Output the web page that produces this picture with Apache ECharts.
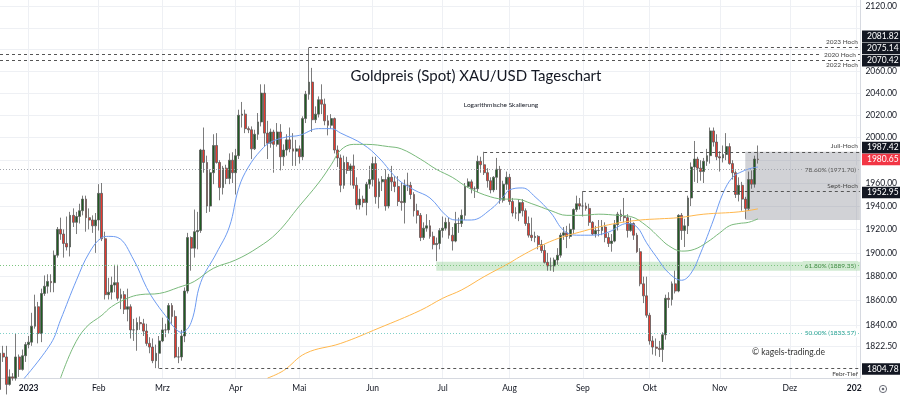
<!DOCTYPE html>
<html><head><meta charset="utf-8">
<script src="https://cdn.jsdelivr.net/npm/echarts@6/dist/echarts.min.js"></script>
<style>html,body{margin:0;padding:0;background:#fff}#c{width:900px;height:395px}</style>
</head><body><div id="c"></div>
<script>
// ---- categories: trading days (Mon-Fri) from 2022-12-20 to 2024-01-02 ----
const dates = [];
for (let d = new Date(Date.UTC(2022, 11, 20)); d <= new Date(Date.UTC(2024, 0, 2)); d.setUTCDate(d.getUTCDate() + 1)) {
  const w = d.getUTCDay();
  if (w === 0 || w === 6) continue;
  dates.push(d.toISOString().slice(0, 10));
}
const monthNames = ['Jan','Feb','Mrz','Apr','Mai','Jun','Jul','Aug','Sep','Okt','Nov','Dez'];

// ---- daily candles [open, close, low, high] ----
const dec22 = [[1788,1817,1786,1823],[1817,1814,1810,1823],[1814,1792,1784,1823],[1792,1798,1791,1804],[1798,1797,1795,1801],
  [1797,1814,1795,1833],[1814,1804,1798,1816],[1804,1815,1803,1820],[1815,1824,1810,1826]];
const jan23 = [[1824,1826,1821,1831],[1826,1839,1823,1850],[1839,1855,1837,1865],[1855,1833,1825,1859],[1833,1866,1826,1870],
  [1866,1872,1864,1881],[1872,1876,1866,1882],[1876,1875,1867,1882],[1875,1898,1867,1902],[1898,1920,1896,1922],
  [1920,1916,1911,1930],[1916,1908,1896,1920],[1908,1905,1902,1931],[1905,1932,1897,1935],[1932,1926,1922,1938],
  [1926,1931,1916,1935],[1931,1936,1925,1942],[1936,1946,1932,1949],[1946,1930,1918,1949],[1930,1928,1920,1938],
  [1928,1923,1917,1932],[1923,1928,1900,1934]];
const feb23 = [[1928,1951,1919,1959],[1951,1912,1910,1960],[1912,1865,1861,1918],
  [1865,1867,1861,1879],[1867,1873,1861,1880],[1873,1875,1867,1890],[1875,1862,1860,1890],[1862,1865,1853,1870],
  [1865,1853,1849,1868],[1853,1855,1843,1870],[1855,1836,1829,1857],[1836,1836,1827,1845],[1836,1842,1819,1846],
  [1842,1841,1836,1847],[1841,1835,1831,1845],[1835,1825,1823,1841],[1825,1822,1817,1830],[1822,1811,1809,1829],
  [1811,1817,1805,1824],[1817,1827,1804.78,1831]];
const mar23 = [[1827,1836,1826,1846],[1836,1836,1830,1841],[1836,1856,1833,1858],
  [1856,1847,1841,1858],[1847,1814,1813,1852],[1814,1814,1809,1822],[1814,1831,1811,1836],[1831,1868,1826,1871],
  [1868,1913,1866,1917],[1913,1904,1885,1914],[1904,1918,1896,1937],[1918,1919,1903,1935],[1919,1989,1917,1990],
  [1989,1978,1969,2009],[1978,1940,1934,1984],[1940,1969,1935,1972],[1969,1993,1959,2003],[1993,1978,1977,2004],
  [1978,1956,1945,1980],[1956,1973,1950,1975],[1973,1964,1959,1976],[1964,1980,1959,1986],[1980,1969,1960,1987]];
const apr23 = [[1969,1984,1950,1990],[1984,2020,1981,2025],[2020,2021,2009,2032],[2021,2008,2004,2025],[2008,2007,2004,2010],
  [2007,1990,1981,2010],[1990,2003,1989,2007],[2003,2014,1998,2022],[2014,2040,2010,2048],[2040,2004,1992,2048],
  [2004,1995,1981,2015],[1995,2005,1991,2008],[2005,1994,1969,2007],[1994,2005,1992,2013],[2005,1983,1971,2012],
  [1983,1989,1975,1994],[1989,1998,1984,2003],[1998,1990,1987,2009],[1990,1988,1975,2004],[1988,1990,1975,1998]];
const may23 = [[1990,1983,1977,1993],[1983,2017,1980,2019],[2017,2039,2013,2042],[2039,2050,2034,2081.82],[2050,2016,2005,2063],
  [2016,2021,2013,2028],[2021,2034,2018,2037],[2034,2030,2021,2048],[2030,2015,2011,2035],[2015,2011,2002,2020],
  [2011,2017,2008,2021],[2017,1989,1986,2018],[1989,1982,1974,1993],[1982,1958,1952,1985],[1958,1978,1955,1984],
  [1978,1971,1968,1983],[1971,1975,1958,1977],[1975,1958,1955,1985],[1958,1941,1937,1965],[1941,1946,1937,1955],
  [1946,1943,1939,1949],[1943,1959,1932,1961],[1959,1963,1955,1975]];
const jun23 = [[1963,1977,1957,1983],[1977,1948,1942,1983],
  [1948,1961,1938,1964],[1961,1963,1953,1966],[1963,1940,1936,1972],[1940,1965,1938,1968],[1965,1961,1953,1975],
  [1961,1957,1952,1966],[1957,1944,1940,1966],[1944,1943,1936,1960],[1943,1958,1925,1963],[1958,1958,1953,1969],
  [1958,1950,1946,1961],[1950,1936,1931,1952],[1936,1932,1925,1942],[1932,1913,1910,1934],[1913,1921,1911,1926],
  [1921,1923,1918,1933],[1923,1914,1912,1928],[1914,1907,1903,1918],[1907,1908,1893,1913],[1908,1919,1903,1921]];
const jul23 = [[1919,1921,1913,1931],[1921,1926,1919,1930],[1926,1915,1912,1930],[1915,1910,1902,1922],[1910,1925,1909,1935],
  [1925,1925,1917,1930],[1925,1932,1922,1937],[1932,1957,1928,1960],[1957,1961,1956,1964],[1961,1955,1951,1963],
  [1955,1955,1947,1957],[1955,1979,1952,1984],[1979,1976,1969,1983],[1976,1969,1967,1987.42],[1969,1962,1956,1973],
  [1962,1954,1951,1965],[1954,1965,1952,1966],[1965,1972,1954,1982],[1972,1945,1942,1975],[1945,1959,1943,1962],
  [1959,1965,1954,1970]];
const aug23 = [[1965,1944,1941,1968],[1944,1934,1931,1947],[1934,1934,1929,1939],[1934,1943,1927,1946],
  [1943,1936,1931,1946],[1936,1925,1923,1938],[1925,1915,1913,1931],[1915,1913,1910,1930],[1913,1914,1909,1918],
  [1914,1907,1903,1915],[1907,1902,1900,1911],[1902,1892,1891,1907],[1892,1889,1885,1900],[1889,1889,1885,1896],
  [1889,1894,1884,1896],[1894,1898,1890,1904],[1898,1915,1896,1917],[1915,1917,1911,1922],[1917,1914,1904,1923],
  [1914,1920,1912,1925],[1920,1937,1916,1938],[1937,1942,1935,1949],[1942,1940,1937,1947]];
const sep23 = [[1940,1940,1931,1952.95],
  [1940,1938,1936,1943],[1938,1926,1923,1942],[1926,1916,1915,1927],[1916,1919,1913,1923],[1919,1919,1914,1928],
  [1919,1922,1915,1928],[1922,1913,1909,1926],[1913,1908,1905,1917],[1908,1910,1901,1916],[1910,1924,1909,1928],
  [1924,1933,1919,1935],[1933,1931,1927,1937],[1931,1930,1926,1947],[1930,1919,1913,1933],[1919,1925,1918,1930],
  [1925,1915,1911,1926],[1915,1901,1900,1917],[1901,1874,1872,1904],[1874,1864,1858,1880],[1864,1848,1846,1880]];
const oct23 = [[1848,1827,1824,1850],[1827,1822,1816,1831],[1822,1821,1815,1829],[1821,1820,1814,1827],[1820,1832,1810,1834],
  [1832,1862,1828,1865],[1862,1861,1854,1867],[1861,1874,1856,1876],[1874,1868,1866,1885],[1868,1932,1867,1933],
  [1932,1919,1911,1934],[1919,1923,1905,1929],[1923,1947,1916,1949],[1947,1974,1940,1978],[1974,1981,1961,1997],
  [1981,1973,1960,1983],[1973,1970,1962,1980],[1970,1979,1960,1982],[1979,1984,1975,1990],[1984,2006,1977,2009],
  [2006,1996,1992,2009],[1996,1983,1980,2003]];
const nov23 = [[1983,1982,1970,1988],[1982,1985,1978,1993],[1985,1992,1980,2004],
  [1992,1977,1976,1995],[1977,1969,1963,1980],[1969,1950,1947,1971],[1950,1958,1944,1965],[1958,1946,1936,1961],
  [1946,1938,1929,1948],[1938,1963,1936,1970],[1963,1959,1955,1971],[1959,1981,1956,1984],[1981,1980.65,1977,1993]];
const candles = [].concat(dec22, jan23, feb23, mar23, apr23, may23, jun23, jul23, aug23, sep23, oct23, nov23);

// ---- moving averages [date, value] ----
const maBlue = [['2022-12-29',1795],['2023-01-11',1825],['2023-01-16',1844],['2023-01-23',1877],['2023-01-27',1900],
  ['2023-02-02',1913],['2023-02-06',1914],['2023-02-09',1913],['2023-02-16',1894],['2023-02-22',1871],['2023-02-27',1858],
  ['2023-03-03',1844],['2023-03-06',1840],['2023-03-09',1834],['2023-03-14',1842],['2023-03-17',1875],['2023-03-24',1900],
  ['2023-03-30',1922],['2023-04-04',1956],['2023-04-07',1974],['2023-04-13',1989],['2023-04-18',1996],['2023-04-25',2000.6],
  ['2023-05-01',2002],['2023-05-09',2008],['2023-05-15',2008],['2023-05-18',2004],['2023-05-29',1994],['2023-06-05',1982],
  ['2023-06-13',1963],['2023-06-20',1954],['2023-06-27',1947],['2023-07-04',1932],['2023-07-07',1928],['2023-07-14',1928],
  ['2023-07-24',1937],['2023-07-28',1948],['2023-08-01',1954],['2023-08-07',1955.7],['2023-08-11',1948],['2023-08-18',1934],
  ['2023-08-24',1919],['2023-08-30',1915],['2023-09-06',1915],['2023-09-13',1917.6],['2023-09-21',1925],['2023-09-26',1922],
  ['2023-09-29',1908.6],['2023-10-04',1897],['2023-10-10',1883],['2023-10-16',1877],['2023-10-19',1883],['2023-10-24',1900],
  ['2023-10-30',1928],['2023-11-02',1951],['2023-11-07',1965],['2023-11-10',1970],['2023-11-15',1973],['2023-11-17',1974]];
const maGreen = [['2023-01-16',1797],['2023-01-20',1822],['2023-01-26',1838],['2023-02-02',1848],['2023-02-07',1855],
  ['2023-02-14',1862],['2023-02-20',1865],['2023-02-28',1866],['2023-03-08',1871],['2023-03-15',1876],['2023-03-23',1887],
  ['2023-04-03',1894],['2023-04-12',1904.5],['2023-04-20',1917],['2023-05-01',1940],['2023-05-09',1960],['2023-05-15',1976],
  ['2023-05-18',1989],['2023-05-24',1994],['2023-05-30',1994],['2023-06-08',1992],['2023-06-14',1990],['2023-06-22',1981],
  ['2023-06-29',1972],['2023-07-06',1965],['2023-07-13',1956],['2023-07-24',1948],['2023-07-31',1946],['2023-08-03',1946],
  ['2023-08-10',1942],['2023-08-18',1936],['2023-08-25',1932],['2023-09-01',1932],['2023-09-08',1933],['2023-09-18',1932],
  ['2023-09-22',1931],['2023-09-29',1923],['2023-10-05',1913],['2023-10-10',1906],['2023-10-16',1901.5],['2023-10-20',1903],
  ['2023-10-26',1909],['2023-11-01',1917],['2023-11-06',1923],['2023-11-09',1925],['2023-11-14',1926],['2023-11-17',1929]];
const maOrange = [['2023-04-17',1797],['2023-04-24',1803],['2023-05-03',1817],['2023-05-18',1825],['2023-06-05',1837.5],
  ['2023-06-22',1852],['2023-07-03',1862],['2023-07-11',1869],['2023-07-20',1880],['2023-08-01',1891.5],['2023-08-04',1896.4],
  ['2023-08-14',1905],['2023-08-23',1913],['2023-08-31',1917.6],['2023-09-08',1922],['2023-09-18',1925.4],['2023-09-27',1928],
  ['2023-10-05',1929],['2023-10-13',1930],['2023-10-25',1933],['2023-11-09',1935],['2023-11-17',1937.6]];

// ---- levels ----
const levels = {
  high2023: 2081.82, high2020: 2075.14, high2022: 2070.42,
  julHigh: 1987.42, septHigh: 1952.95, febLow: 1804.78, last: 1980.65,
  fib786: 1971.70, fib618: 1889.35, fib500: 1833.57
};
const zoneBand = [1885.0, 1892.6];
const zoneBox = [1928, 1987.42];
const gridValues = [1822.5,1840,1860,1880,1900,1920,1940,1960,1980,2000,2020,2040,2060,2080,2100,2120];
const labelValues = [1822.5,1840,1860,1880,1900,1920,1940,1960,2000,2020,2040,2060,2120];

const FONT = 'Lato, "Open Sans", sans-serif';
const lastDate = dates[dates.length - 1];
const isMonthStart = (i) => i > 0 && dates[i].slice(5, 7) !== dates[i - 1].slice(5, 7);

const dash = { type: [3, 3], color: '#555', width: 1 };
function lvl(startDate, v, text, pos, style, labelColor, bg) {
  return [
    { coord: [startDate, v], lineStyle: style,
      label: { show: !!text, formatter: text || '', position: pos, color: labelColor || '#444',
               fontSize: 6.5, fontFamily: FONT, distance: 2,
               backgroundColor: bg || 'transparent', padding: bg ? [1, 2] : 0 } },
    { coord: [lastDate, v] }
  ];
}

const chart = echarts.init(document.getElementById('c'), null, { renderer: 'canvas', width: 900, height: 395 });
chart.setOption({
  animation: false,
  backgroundColor: '#ffffff',
  grid: { left: 0, right: 38.4, top: 0, bottom: 17 },
  xAxis: {
    type: 'category', data: dates, boundaryGap: false,
    axisLine: { show: true, lineStyle: { color: '#d6d9e0' } },
    axisTick: { show: false },
    axisLabel: {
      interval: (i) => isMonthStart(i), margin: 6, color: '#131722', fontSize: 8.5, fontFamily: FONT,
      formatter: (v) => { const m = +v.slice(5, 7); return m === 1 ? '{b|' + v.slice(0, 4) + '}' : monthNames[m - 1]; },
      rich: { b: { fontWeight: 'bold', fontSize: 8.5, fontFamily: FONT, color: '#131722' } }
    },
    splitLine: { show: true, interval: (i) => isMonthStart(i), lineStyle: { color: '#eef0f4', width: 1 } }
  },
  yAxis: {
    type: 'log', logBase: 10, position: 'right', min: 1797.1, max: 2126.3, scale: true,
    axisLine: { show: true, lineStyle: { color: '#d6d9e0' } },
    axisTick: { show: false, customValues: gridValues },
    axisLabel: { customValues: labelValues, formatter: (v) => (+v).toFixed(2), color: '#131722',
                 fontSize: 8.5, fontFamily: FONT, margin: 5.5 },
    splitLine: { show: true, lineStyle: { color: '#eef0f4', width: 1 } }
  },
  series: [
    {
      type: 'candlestick', name: 'XAUUSD', data: candles, barWidth: '74%', z: 2,
      itemStyle: { color: '#1f5c22', color0: '#e8392e', borderColor: '#5a5a5a', borderColor0: '#5a5a5a', borderWidth: 0.8 },
      markArea: {
        silent: true,
        data: [
          [{ coord: ['2023-06-29', zoneBand[0]], itemStyle: { color: 'rgba(76,175,80,0.25)' } }, { coord: [lastDate, zoneBand[1]] }],
          [{ coord: ['2023-11-13', zoneBox[0]], itemStyle: { color: 'rgba(120,123,134,0.34)' } }, { coord: [lastDate, zoneBox[1]] }]
        ]
      },
      markLine: {
        symbol: ['none', 'none'], silent: true, animation: false,
        data: [
          lvl('2023-05-04', levels.high2023, '2023 Hoch', 'insideEndTop', dash),
          lvl(dates[0], levels.high2020, '2020 Hoch', 'insideEnd', dash, '#444', '#ffffff'),
          lvl(dates[0], levels.high2022, '2022 Hoch', 'insideEndBottom', dash),
          lvl('2023-07-20', levels.julHigh, 'Juli-Hoch', 'insideEndTop', dash),
          lvl('2023-09-01', levels.septHigh, 'Sept-Hoch', 'insideEndTop', dash),
          lvl('2023-02-28', levels.febLow, 'Febr-Tief', 'insideEndBottom', dash),
          lvl(dates[0], levels.fib786, '78.60% (1971.70)', 'insideEnd', { type: [1, 2], color: '#a3a6ae', width: 1 }, '#555', '#d1d2d6'),
          lvl(dates[0], levels.fib618, '61.80% (1889.35)', 'insideEnd', { type: [1, 2], color: '#7cc47f', width: 1 }, '#3d8b40', '#d2ebd3'),
          lvl(dates[0], levels.fib500, '50.00% (1833.57)', 'insideEnd', { type: [1, 2], color: '#7fd0c8', width: 1 }, '#1f9e8f', '#ffffff')
        ]
      }
    },
    { type: 'line', name: 'MA blue', data: maBlue, smooth: 0.4, showSymbol: false, z: 3,
      lineStyle: { color: '#6d9bf1', width: 1 } },
    { type: 'line', name: 'MA green', data: maGreen, smooth: 0.4, showSymbol: false, z: 3,
      lineStyle: { color: '#79b97b', width: 1 } },
    { type: 'line', name: 'MA orange', data: maOrange, smooth: 0.4, showSymbol: false, z: 3,
      lineStyle: { color: '#ffb74d', width: 1 } }
  ]
});

// ---- right-axis price tags (positioned through the y scale) ----
const tags = [
  { v: levels.high2023, dy: -11.2, bg: '#131722' },
  { v: levels.high2020, dy: -6.4, bg: '#131722' },
  { v: levels.high2022, dy: 0.9, bg: '#131722' },
  { v: levels.julHigh, dy: -4.2, bg: '#131722' },
  { v: levels.last, dy: 0, bg: '#f23645' },
  { v: levels.septHigh, dy: 1.4, bg: '#131722' },
  { v: levels.febLow, dy: 0.6, bg: '#131722' }
];
const g = [];
tags.forEach(t => {
  const y = chart.convertToPixel({ yAxisIndex: 0 }, t.v) + t.dy;
  g.push({ type: 'rect', z: 100, shape: { x: 862, y: y - 5.8, width: 38, height: 11.6 }, style: { fill: t.bg } });
  g.push({ type: 'text', z: 101, x: 867, y: y, style: { text: t.v.toFixed(2), fill: '#ffffff', font: '8.5px ' + FONT, align: 'left', verticalAlign: 'middle' } });
});
g.push({ type: 'rect', z: 100, shape: { x: 862, y: 379, width: 38, height: 16 }, style: { fill: '#ffffff' } });
g.push({ type: 'circle', z: 101, shape: { cx: 883, cy: 389, r: 3.6 }, style: { fill: 'none', stroke: '#6a6d78', lineWidth: 1 } });
g.push({ type: 'circle', z: 101, shape: { cx: 883, cy: 389, r: 1.3 }, style: { fill: '#6a6d78' } });
g.push({ type: 'text', z: 50, x: 476, y: 76, style: { text: 'Goldpreis (Spot) XAU/USD Tageschart', fill: '#131722', font: '15px ' + FONT, align: 'center', verticalAlign: 'middle' } });
g.push({ type: 'text', z: 50, x: 501, y: 104.5, style: { text: 'Logarithmische Skalierung', fill: '#131722', font: '6.5px ' + FONT, align: 'center', verticalAlign: 'middle' } });
g.push({ type: 'text', z: 50, x: 752, y: 352, style: { text: '© kagels-trading.de', fill: '#333333', font: '8.5px ' + FONT, align: 'left', verticalAlign: 'middle' } });
chart.setOption({ graphic: g });
</script></body></html>
